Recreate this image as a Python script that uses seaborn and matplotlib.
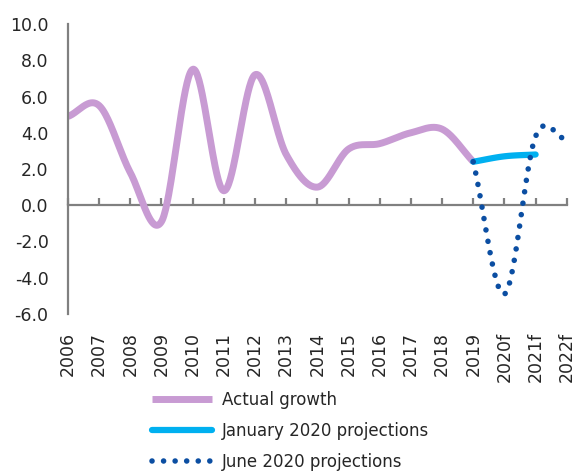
import numpy as np
import pandas as pd
import matplotlib
matplotlib.use("Agg")
import matplotlib.pyplot as plt
import seaborn as sns

years = ["2006", "2007", "2008", "2009", "2010", "2011", "2012", "2013", "2014",
         "2015", "2016", "2017", "2018", "2019", "2020f", "2021f", "2022f"]

actual_growth = [4.9, 5.5, 1.8, -0.9, 7.5, 0.8, 7.2, 2.8, 1.0,
                 3.1, 3.4, 4.0, 4.2, 2.4]
jan_years = ["2019", "2020f", "2021f"]
jan_proj = [2.4, 2.7, 2.8]
june_years = ["2019", "2020f", "2021f", "2022f"]
june_proj = [2.4, -4.9, 3.8, 3.6]

y_ticks = [-6, -4, -2, 0, 2, 4, 6, 8, 10]


def smooth(xs, ys, n=40):
    # Excel-style smoothed line (Catmull-Rom through the points)
    xs = np.asarray(xs, float)
    ys = np.asarray(ys, float)
    px = np.concatenate([[2 * xs[0] - xs[1]], xs, [2 * xs[-1] - xs[-2]]])
    py = np.concatenate([[2 * ys[0] - ys[1]], ys, [2 * ys[-1] - ys[-2]]])
    out_x, out_y = [], []
    t = np.linspace(0, 1, n)
    for i in range(1, len(px) - 2):
        m0 = (py[i + 1] - py[i - 1]) / 2
        m1 = (py[i + 2] - py[i]) / 2
        h00 = 2 * t**3 - 3 * t**2 + 1
        h10 = t**3 - 2 * t**2 + t
        h01 = -2 * t**3 + 3 * t**2
        h11 = t**3 - t**2
        out_x.extend(px[i] + t * (px[i + 1] - px[i]))
        out_y.extend(h00 * py[i] + h10 * m0 + h01 * py[i + 1] + h11 * m1)
    return pd.DataFrame({"x": out_x, "y": out_y})


pos = {y: i for i, y in enumerate(years)}
df_actual = smooth([pos[y] for y in years[:len(actual_growth)]], actual_growth)
df_jan = smooth([pos[y] for y in jan_years], jan_proj)
df_june = smooth([pos[y] for y in june_years], june_proj)

sns.set_style("white")
plt.rcParams["font.family"] = ["DejaVu Sans"]

fig = plt.figure(figsize=(5.76, 4.74), dpi=100)
ax = fig.add_axes([0.118, 0.3376, 0.866, 0.6117])

sns.lineplot(data=df_actual, x="x", y="y", color="#C89BD3", linewidth=5,
             ax=ax, label="Actual growth", solid_capstyle="butt")
sns.lineplot(data=df_jan, x="x", y="y", color="#00B0F0", linewidth=4.5,
             ax=ax, label="January 2020 projections", solid_capstyle="round")
june_line = sns.lineplot(data=df_june, x="x", y="y", color="#0B4EA2", linewidth=4,
                         ax=ax, label="June 2020 projections").lines[-1]
june_line.set_dashes((0.01, 2.07))
june_line.set_dash_capstyle("round")
june_line.set_clip_on(False)

ax.set_xlim(0, len(years) - 1)
ax.set_ylim(-6, 10)
ax.set_yticks(y_ticks)
ax.set_yticklabels([f"{v:.1f}" for v in y_ticks], fontsize=12.5)
ax.set_xticks(range(len(years)))
ax.set_xticklabels(years, rotation=90, fontsize=12.5)
ax.set_xlabel("")
ax.set_ylabel("")

for s in ["top", "right", "bottom"]:
    ax.spines[s].set_visible(False)
ax.spines["left"].set_color("#808080")
ax.spines["left"].set_linewidth(1.6)
ax.tick_params(axis="y", direction="in", length=5, width=1.6, color="#808080", pad=14)
ax.tick_params(axis="x", length=0, pad=13)

zero_axis = ax.secondary_xaxis(6 / 16)
zero_axis.set_xticks(range(len(years)))
zero_axis.set_xticklabels([])
zero_axis.tick_params(direction="in", length=5, width=1.6, color="#808080")
for s in zero_axis.spines:
    zero_axis.spines[s].set_color("#808080")
    zero_axis.spines[s].set_linewidth(1.6)

ax.get_legend().remove()
handles, labels = ax.get_legend_handles_labels()
fig.legend(handles, labels, loc="upper left", bbox_to_anchor=(152 / 576, 1 - 391 / 474),
           frameon=False, fontsize=12, handlelength=3.6, handletextpad=0.6,
           labelspacing=0.78, borderpad=0, borderaxespad=0)

fig.savefig("out.png", dpi=100)
